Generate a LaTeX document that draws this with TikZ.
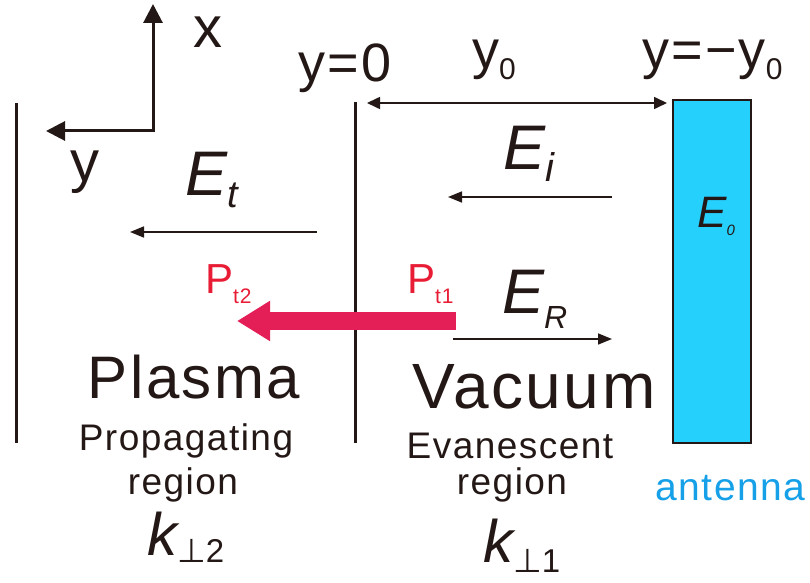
\documentclass[tikz,border=0pt]{standalone}
\usepackage{fontspec}
\setmainfont{Liberation Sans}[LetterSpace=4]
\newfontfamily\perpfont{DejaVu Sans}
\usepackage{tikz}
\usetikzlibrary{arrows.meta}
\definecolor{ink}{RGB}{35,24,21}
\definecolor{antfill}{RGB}{38,208,253}
\definecolor{antblue}{RGB}{22,160,232}
\definecolor{pwr}{RGB}{232,28,52}
\definecolor{pwrarrow}{RGB}{228,30,86}
\newcommand{\fsz}[1]{\fontsize{#1}{#1}\selectfont}
\newcommand{\lsub}[3]{\raisebox{-#1pt}{\fsz{#2}#3}}

\begin{document}
\begin{tikzpicture}[x=1pt,y=1pt,
  lbl/.style={inner sep=0,anchor=base west,text=ink},
  ctr/.style={inner sep=0,anchor=base,text=ink},
  wall/.style={draw=ink,line width=3pt},
  field/.style={draw=ink,line width=1.6pt,-{Triangle[length=14pt,width=11pt]}}]
\useasboundingbox (0,0) rectangle (810,582);
% walls and axes
\coordinate (lwt) at (16,479); \coordinate (lwb) at (16,139);
\coordinate (mwt) at (355,480); \coordinate (mwb) at (355,139);
\draw[wall] (lwt) -- (lwb);
\draw[wall] (mwt) -- (mwb);
\coordinate (xend) at (153,578); \coordinate (yend) at (46,451);
\draw[draw=ink,line width=3pt,{Triangle[length=19pt,width=19pt]}-{Triangle[length=19pt,width=19pt]}] (xend) |- (yend);
\node[lbl,font=\fsz{58}] (xl) at (193,534) {x};
\node[lbl,font=\fsz{58}] (yl) at (70,400) {y};
% antenna
\node[draw=ink,line width=2pt,fill=antfill,minimum width=78pt,minimum height=343pt,inner sep=0] (ant) at (712,310.5) {};
\node[lbl,font=\fsz{44}\itshape] (e0) at (697,355) {E\lsub{8}{15}{0}};
\node[lbl,text=antblue,font=\fsz{39}] (antl) at (655,82) {antenna};
% positions
\node[lbl,font=\fsz{54}] (y0l) at (298,500) {y=0};
\node[lbl,font=\fsz{54}] (gapl) at (472,513) {y\lsub{11}{30}{0}};
\node[lbl,font=\fsz{54}] (yal) at (642,513) {y=−y\lsub{11}{30}{0}};
\coordinate (gapa) at (367,479); \coordinate (gapb) at (667,479);
\draw[field,{Triangle[length=13pt,width=12pt]}-{Triangle[length=13pt,width=12pt]}] (gapa) -- (gapb);
% fields
\foreach \n/\x/\y in {eia/612/385,eib/448/385,eta/317/350,etb/130/350,era/453/243,erb/612/243}
  \coordinate (\n) at (\x,\y);
\foreach \a/\b in {eia/eib,eta/etb,era/erb} \draw[field] (\a) -- (\b);
\node[lbl,font=\fsz{63}\itshape] (ei) at (503,412) {E\lsub{12}{40}{i}};
\node[lbl,font=\fsz{63}\itshape] (et) at (185,387) {E\lsub{12}{38}{t}};
\node[lbl,font=\fsz{63}\itshape] (er) at (502,269) {E\lsub{15}{32}{R}};
% power flow
\coordinate (pa) at (456,261); \coordinate (pb) at (237,261);
\draw[pwrarrow,line width=18pt,-{Triangle[length=33pt,width=38pt]}] (pa) -- (pb);
\node[lbl,text=pwr,font=\fsz{42}] (pt2) at (205,289) {P\lsub{10}{21}{t2}};
\node[lbl,text=pwr,font=\fsz{42}] (pt1) at (407,289) {P\lsub{10}{21}{t1}};
% regions
\node[ctr,font=\fsz{60}] (plasma) at (194,184) {Plasma};
\node[ctr,font=\fsz{37}] (prop) at (186,132) {Propagating};
\node[ctr,font=\fsz{37}] (regl) at (183,88) {region};
\node[lbl,font=\fsz{60}\itshape] (k2) at (147,27) {k\lsub{7}{33}{\upshape{\perpfont ⊥}2}};
\node[ctr,font=\fsz{64}] (vac) at (534,174) {Vacuum};
\node[ctr,font=\fsz{37}] (evan) at (510,124) {Evanescent};
\node[ctr,font=\fsz{37}] (regr) at (512,88) {region};
\node[lbl,font=\fsz{60}\itshape] (k1) at (483,20) {k\lsub{10}{33}{\upshape{\perpfont ⊥}1}};
\end{tikzpicture}
\end{document}
